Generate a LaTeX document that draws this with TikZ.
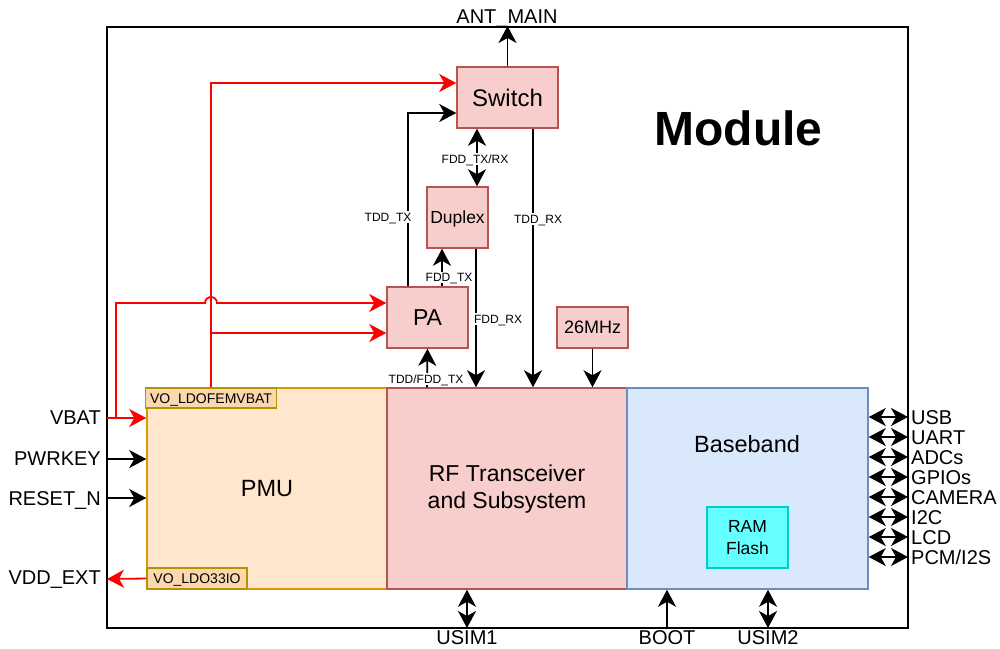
\documentclass[tikz,border=0pt]{standalone}
\usepackage{fontspec}
\setmainfont{Liberation Sans}
\usetikzlibrary{arrows.meta,calc}

\definecolor{rfFill}{HTML}{F8CECC}
\definecolor{rfLine}{HTML}{B85450}
\definecolor{pmFill}{HTML}{FFE6CC}
\definecolor{pmLine}{HTML}{D79B00}
\definecolor{voFill}{HTML}{FAD7AC}
\definecolor{voLine}{HTML}{B09500}
\definecolor{bbFill}{HTML}{DAE8FC}
\definecolor{bbLine}{HTML}{6C8EBF}
\definecolor{memFill}{HTML}{66FFFF}
\definecolor{memLine}{HTML}{00CCCC}
\definecolor{pwr}{HTML}{FF0000}

\newcommand\fsz[1]{\fontsize{#1}{#1}\selectfont}

\begin{document}
\begin{tikzpicture}[x=1pt,y=-1pt,
  >={Stealth[length=17pt,width=18pt,inset=5pt]},
  % single-line text: the node centre sits on the middle of the capitals
  fs/.style={font=\fsz{#1}, inner sep=0pt, text height=0.72*#1pt, text depth=0pt},
  elbl/.style={fs=12, fill=white, inner xsep=1pt, inner ysep=1.5pt},
  pin/.style={fs=20},
  blk/.style={line width=1.5pt},
  rfbox/.style={blk, draw=rfLine, fill=rfFill},
  pmbox/.style={blk, draw=pmLine, fill=pmFill},
  vobox/.style={blk, draw=voLine, fill=voFill, fs=14},
  bbbox/.style={blk, draw=bbLine, fill=bbFill},
  membox/.style={line width=1.5pt, draw=memLine, fill=memFill, align=center},
  frame/.style={draw=black, line width=2pt, inner sep=0pt},
  conn/.style={draw=black, line width=1.8pt},
  pline/.style={draw=pwr, line width=1.8pt},
]
\useasboundingbox (0,0) rectangle (1000,648);

% module outline and title
\node[frame, minimum width=801pt, minimum height=601pt] (module) at (507.5,327.5) {};
\node[fs=48, font=\bfseries\fsz{48}] (title) at (738.5,128.5) {Module};

% RF front end
\node[rfbox, fs=24, minimum width=101pt, minimum height=61pt] (switch) at (507.5,97.5) {Switch};
\node[rfbox, fs=17.5, minimum width=61pt, minimum height=61pt] (duplex) at (457.5,217.5) {Duplex};
\node[rfbox, fs=23, minimum width=81pt, minimum height=61pt] (pa) at (427.5,317.5) {PA};
\node[rfbox, fs=18, minimum width=71pt, minimum height=41pt] (osc) at (592.5,327.5) {26MHz};

% main blocks
\node[pmbox, fs=23.5, minimum width=240pt, minimum height=201pt] (pmu) at (267,488.5) {PMU};
\node[rfbox, minimum width=240pt, minimum height=201pt] (rf) at (507,488.5) {};
\node[align=center, font=\fontsize{23}{27}\selectfont, inner sep=0pt] (rflabel) at (507,489.5) {RF Transceiver\\and Subsystem};
\node[bbbox, minimum width=241pt, minimum height=201pt] (bb) at (747.5,488.5) {};
\node[fs=23.5] (bblabel) at (747,444) {Baseband};
\node[membox, minimum width=81pt, minimum height=61pt, inner sep=0pt, font=\fontsize{17.5}{22}\selectfont] (mem) at (747.5,537.5) {RAM\\Flash};

% PMU outputs
\node[vobox, minimum width=131pt, minimum height=20pt] (vo1) at (211,398) {VO\_LDOFEMVBAT};
\node[vobox, minimum width=100pt, minimum height=21pt] (vo2) at (197,578.5) {VO\_LDO33IO};

% antenna
\draw[conn,->] (switch.north) -- (switch.north |- module.north);
\node[pin] (lant) at (507,16.5) {ANT\_MAIN};

% RF signal paths
\draw[conn,->] ([xshift=-19.5pt]pa.north) |- ([yshift=-15.5pt]switch.west);
\draw[conn,<->] ([xshift=-30.5pt]switch.south) -- ([xshift=19.5pt]duplex.north);
\draw[conn,->] ([xshift=14.5pt]pa.north) -- ([xshift=-15.5pt]duplex.south);
\draw[conn,->] ([xshift=18.5pt]duplex.south) -- ([xshift=-31pt]rf.north);
\draw[conn,->] ([xshift=25.5pt]switch.south) -- ([xshift=26pt]rf.north);
\draw[conn,->] ([xshift=-80pt]rf.north) -- (pa.south);
\draw[conn,->] (osc.south) -- (osc.south |- rf.north);

\node[elbl] (lfddtrx) at (475,159) {FDD\_TX/RX};
\node[elbl] (ltddtx) at (388,217) {TDD\_TX};
\node[elbl] (ltddrx) at (538,219) {TDD\_RX};
\node[elbl] (lfddtx) at (449,277.5) {FDD\_TX};
\node[elbl] (lfddrx) at (498,319) {FDD\_RX};
\node[elbl] (ltfdtx) at (426,379) {TDD/FDD\_TX};

% supply rails
\coordinate (swIn) at ([yshift=14.5pt]switch.west);
\coordinate (paIn1) at ([yshift=14.5pt]pa.west);
\coordinate (paIn2) at ([yshift=-15.5pt]pa.west);
\draw[pline,->] (vo1.north) -- (vo1.north |- swIn) -- (swIn);
\draw[pline,->] (vo1.north |- paIn2) -- (paIn2);

% left pins
\coordinate (pVBAT) at (107,418);
\coordinate (pVBATj) at (116,418);
\coordinate (pPWR) at (107,459);
\coordinate (pRST) at (107,498);
\coordinate (pVDD) at (107,579);
\draw[pline,->] (pVBAT) -- (pVBAT -| pmu.west);
\draw[pline,->] (pVBATj) |- ($(vo1.north |- paIn1)+(-6,0)$)
  arc[start angle=180, end angle=0, radius=6pt] -- (paIn1);
\draw[conn,->] (pPWR) -- (pPWR -| pmu.west);
\draw[conn,->] (pRST) -- (pRST -| pmu.west);
\draw[pline,->] (vo2.west) -- (pVDD);
\node[pin, anchor=east] (lvbat) at (101,417) {VBAT};
\node[pin, anchor=east] (lpwr) at (101,458) {PWRKEY};
\node[pin, anchor=east] (lrst) at (101,498) {RESET\_N};
\node[pin, anchor=east] (lvdd) at (101,577) {VDD\_EXT};

% right pins
\foreach \lab [count=\i from 0] in {USB,UART,ADCs,GPIOs,CAMERA,I2C,LCD,PCM/I2S} {
  \coordinate (io\i) at (908,{417+20*\i});
  \draw[conn,<->] (io\i -| bb.east) -- (io\i);
  \node[pin, anchor=west] (lio\i) at (911,{417+20*\i}) {\lab};
}

% bottom pins
\coordinate (pUSIM1) at (467,628);
\coordinate (pBOOT) at (667,628);
\coordinate (pUSIM2) at (768,628);
\draw[conn,<->] (pUSIM1 |- rf.south) -- (pUSIM1);
\draw[conn,->] (pBOOT) -- (pBOOT |- bb.south);
\draw[conn,<->] (pUSIM2 |- bb.south) -- (pUSIM2);
\node[pin] (lusim1) at (467,637) {USIM1};
\node[pin] (lboot) at (667,637) {BOOT};
\node[pin] (lusim2) at (768,637) {USIM2};
\end{tikzpicture}
\end{document}
